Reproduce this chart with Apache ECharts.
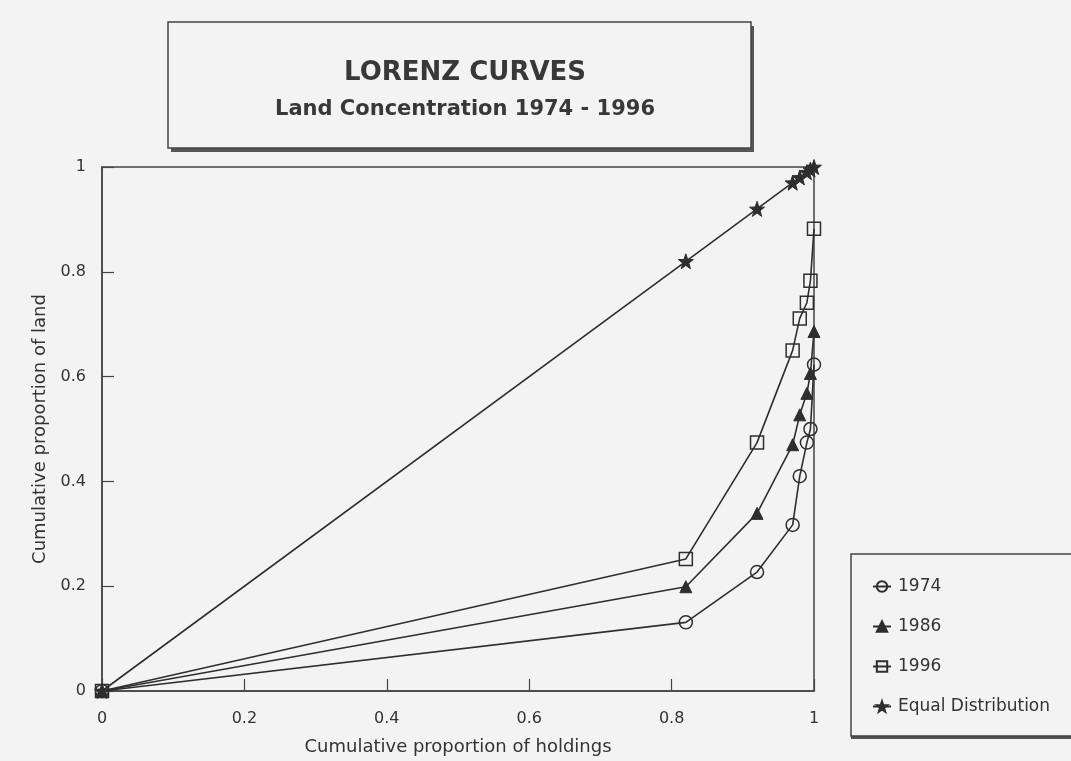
<!DOCTYPE html>
<html>
<head>
<meta charset="utf-8">
<script src="https://cdn.jsdelivr.net/npm/echarts@6/dist/echarts.min.js"></script>
<style>
  html, body { margin: 0; padding: 0; background: #f3f3f3; }
  #chart { width: 1071px; height: 761px; }
</style>
</head>
<body>
<div id="chart"></div>
<script>
// ---- data ----
const holdings = [0, 0.82, 0.92, 0.97, 0.98, 0.99, 0.995, 1.0];
const land1974 = [0, 0.131, 0.227, 0.317, 0.41, 0.474, 0.50, 0.623];
const land1986 = [0, 0.199, 0.339, 0.47, 0.527, 0.568, 0.606, 0.686];
const land1996 = [0, 0.252, 0.474, 0.65, 0.711, 0.741, 0.783, 0.882];
const landEqual = [0, 0.82, 0.92, 0.97, 0.98, 0.99, 0.995, 1.0];
const seriesNames = ['1974', '1986', '1996', 'Equal Distribution'];
const xTicks = [0, 0.2, 0.4, 0.6, 0.8, 1];
const yTicks = [0, 0.2, 0.4, 0.6, 0.8, 1];
const titleText = 'LORENZ CURVES';
const subtitleText = 'Land Concentration 1974 - 1996';
const xName = 'Cumulative proportion of holdings';
const yName = 'Cumulative proportion of land';

function pairs(xs, ys) { return xs.map((x, i) => [x, ys[i]]); }

const ink = '#2e2e2e';
const font = 'DejaVu Sans';
const star = 'path://M0,-10 L2.35,-3.24 L9.51,-3.09 L3.8,1.24 L5.88,8.09 L0,4 L-5.88,8.09 L-3.8,1.24 L-9.51,-3.09 L-2.35,-3.24 Z';

const hollow = { color: 'rgba(0,0,0,0)', borderColor: ink, borderWidth: 1.5 };
const solid = { color: ink, borderColor: ink, borderWidth: 1 };

const chart = echarts.init(document.getElementById('chart'), null, { renderer: 'canvas' });

chart.setOption({
  backgroundColor: '#f3f3f3',
  animation: false,
  graphic: [
    // title box: shadow then frame
    { type: 'rect', z: 0, shape: { x: 171, y: 26, width: 583, height: 126 },
      style: { fill: '#555', stroke: null } },
    { type: 'rect', z: 1, shape: { x: 168, y: 22, width: 583, height: 126 },
      style: { fill: '#f3f3f3', stroke: '#444', lineWidth: 1.5 } },
    // legend box: shadow then frame
    { type: 'rect', z: 0, shape: { x: 851, y: 557, width: 240, height: 182 },
      style: { fill: '#555', stroke: null } },
    { type: 'rect', z: 1, shape: { x: 851, y: 554, width: 240, height: 182 },
      style: { fill: '#f3f3f3', stroke: '#444', lineWidth: 1.5 } }
  ],
  title: [
    { text: titleText, left: 460, top: 55, textAlign: 'center',
      textStyle: { fontFamily: font, fontSize: 26, fontWeight: 'bold', color: '#383838' } },
    { text: subtitleText, left: 460, top: 94, textAlign: 'center',
      textStyle: { fontFamily: font, fontSize: 21, fontWeight: 'bold', color: '#383838' } }
  ],
  legend: {
    orient: 'vertical', left: 867, top: 573,
    itemWidth: 18, itemHeight: 13, itemGap: 23,
    data: seriesNames,
    textStyle: { fontFamily: font, fontSize: 17, color: '#333', padding: [0, 0, 0, 2] }
  },
  grid: { left: 102, right: 1071 - 814, top: 167, bottom: 761 - 692,
          show: true, borderColor: '#444', borderWidth: 1.5, backgroundColor: 'transparent' },
  xAxis: {
    type: 'value', min: 0, max: 1, interval: 0.2,
    name: xName, nameLocation: 'middle', nameGap: 47,
    nameTextStyle: { fontFamily: font, fontSize: 18, color: '#333' },
    axisLine: { show: true, lineStyle: { color: '#444', width: 1.5 } },
    axisTick: { show: true, inside: true, length: 12, lineStyle: { color: '#444', width: 1.2 } },
    axisLabel: { fontFamily: font, fontSize: 16, color: '#333', margin: 20,
                 formatter: v => (xTicks.includes(+v.toFixed(1)) ? String(+v.toFixed(1)) : '') },
    splitLine: { show: false }
  },
  yAxis: {
    type: 'value', min: 0, max: 1, interval: 0.2,
    name: yName, nameLocation: 'middle', nameGap: 51,
    nameTextStyle: { fontFamily: font, fontSize: 18, color: '#333' },
    axisLine: { show: true, lineStyle: { color: '#444', width: 1.5 } },
    axisTick: { show: true, inside: true, length: 12, lineStyle: { color: '#444', width: 1.2 } },
    axisLabel: { fontFamily: font, fontSize: 16, color: '#333', margin: 16,
                 formatter: v => (yTicks.includes(+v.toFixed(1)) ? String(+v.toFixed(1)) : '') },
    splitLine: { show: false }
  },
  series: [
    { name: seriesNames[0], type: 'line', data: pairs(holdings, land1974),
      symbol: 'circle', symbolSize: 13, itemStyle: hollow,
      lineStyle: { color: ink, width: 1.6 }, z: 3 },
    { name: seriesNames[1], type: 'line', data: pairs(holdings, land1986),
      symbol: 'triangle', symbolSize: 12, itemStyle: solid,
      lineStyle: { color: ink, width: 1.6 }, z: 3 },
    { name: seriesNames[2], type: 'line', data: pairs(holdings, land1996),
      symbol: 'rect', symbolSize: 13, itemStyle: hollow,
      lineStyle: { color: ink, width: 1.6 }, z: 3 },
    { name: seriesNames[3], type: 'line', data: pairs(holdings, landEqual),
      symbol: star, symbolSize: 15, itemStyle: solid,
      lineStyle: { color: ink, width: 1.6 }, z: 3 }
  ]
});
</script>
</body>
</html>
